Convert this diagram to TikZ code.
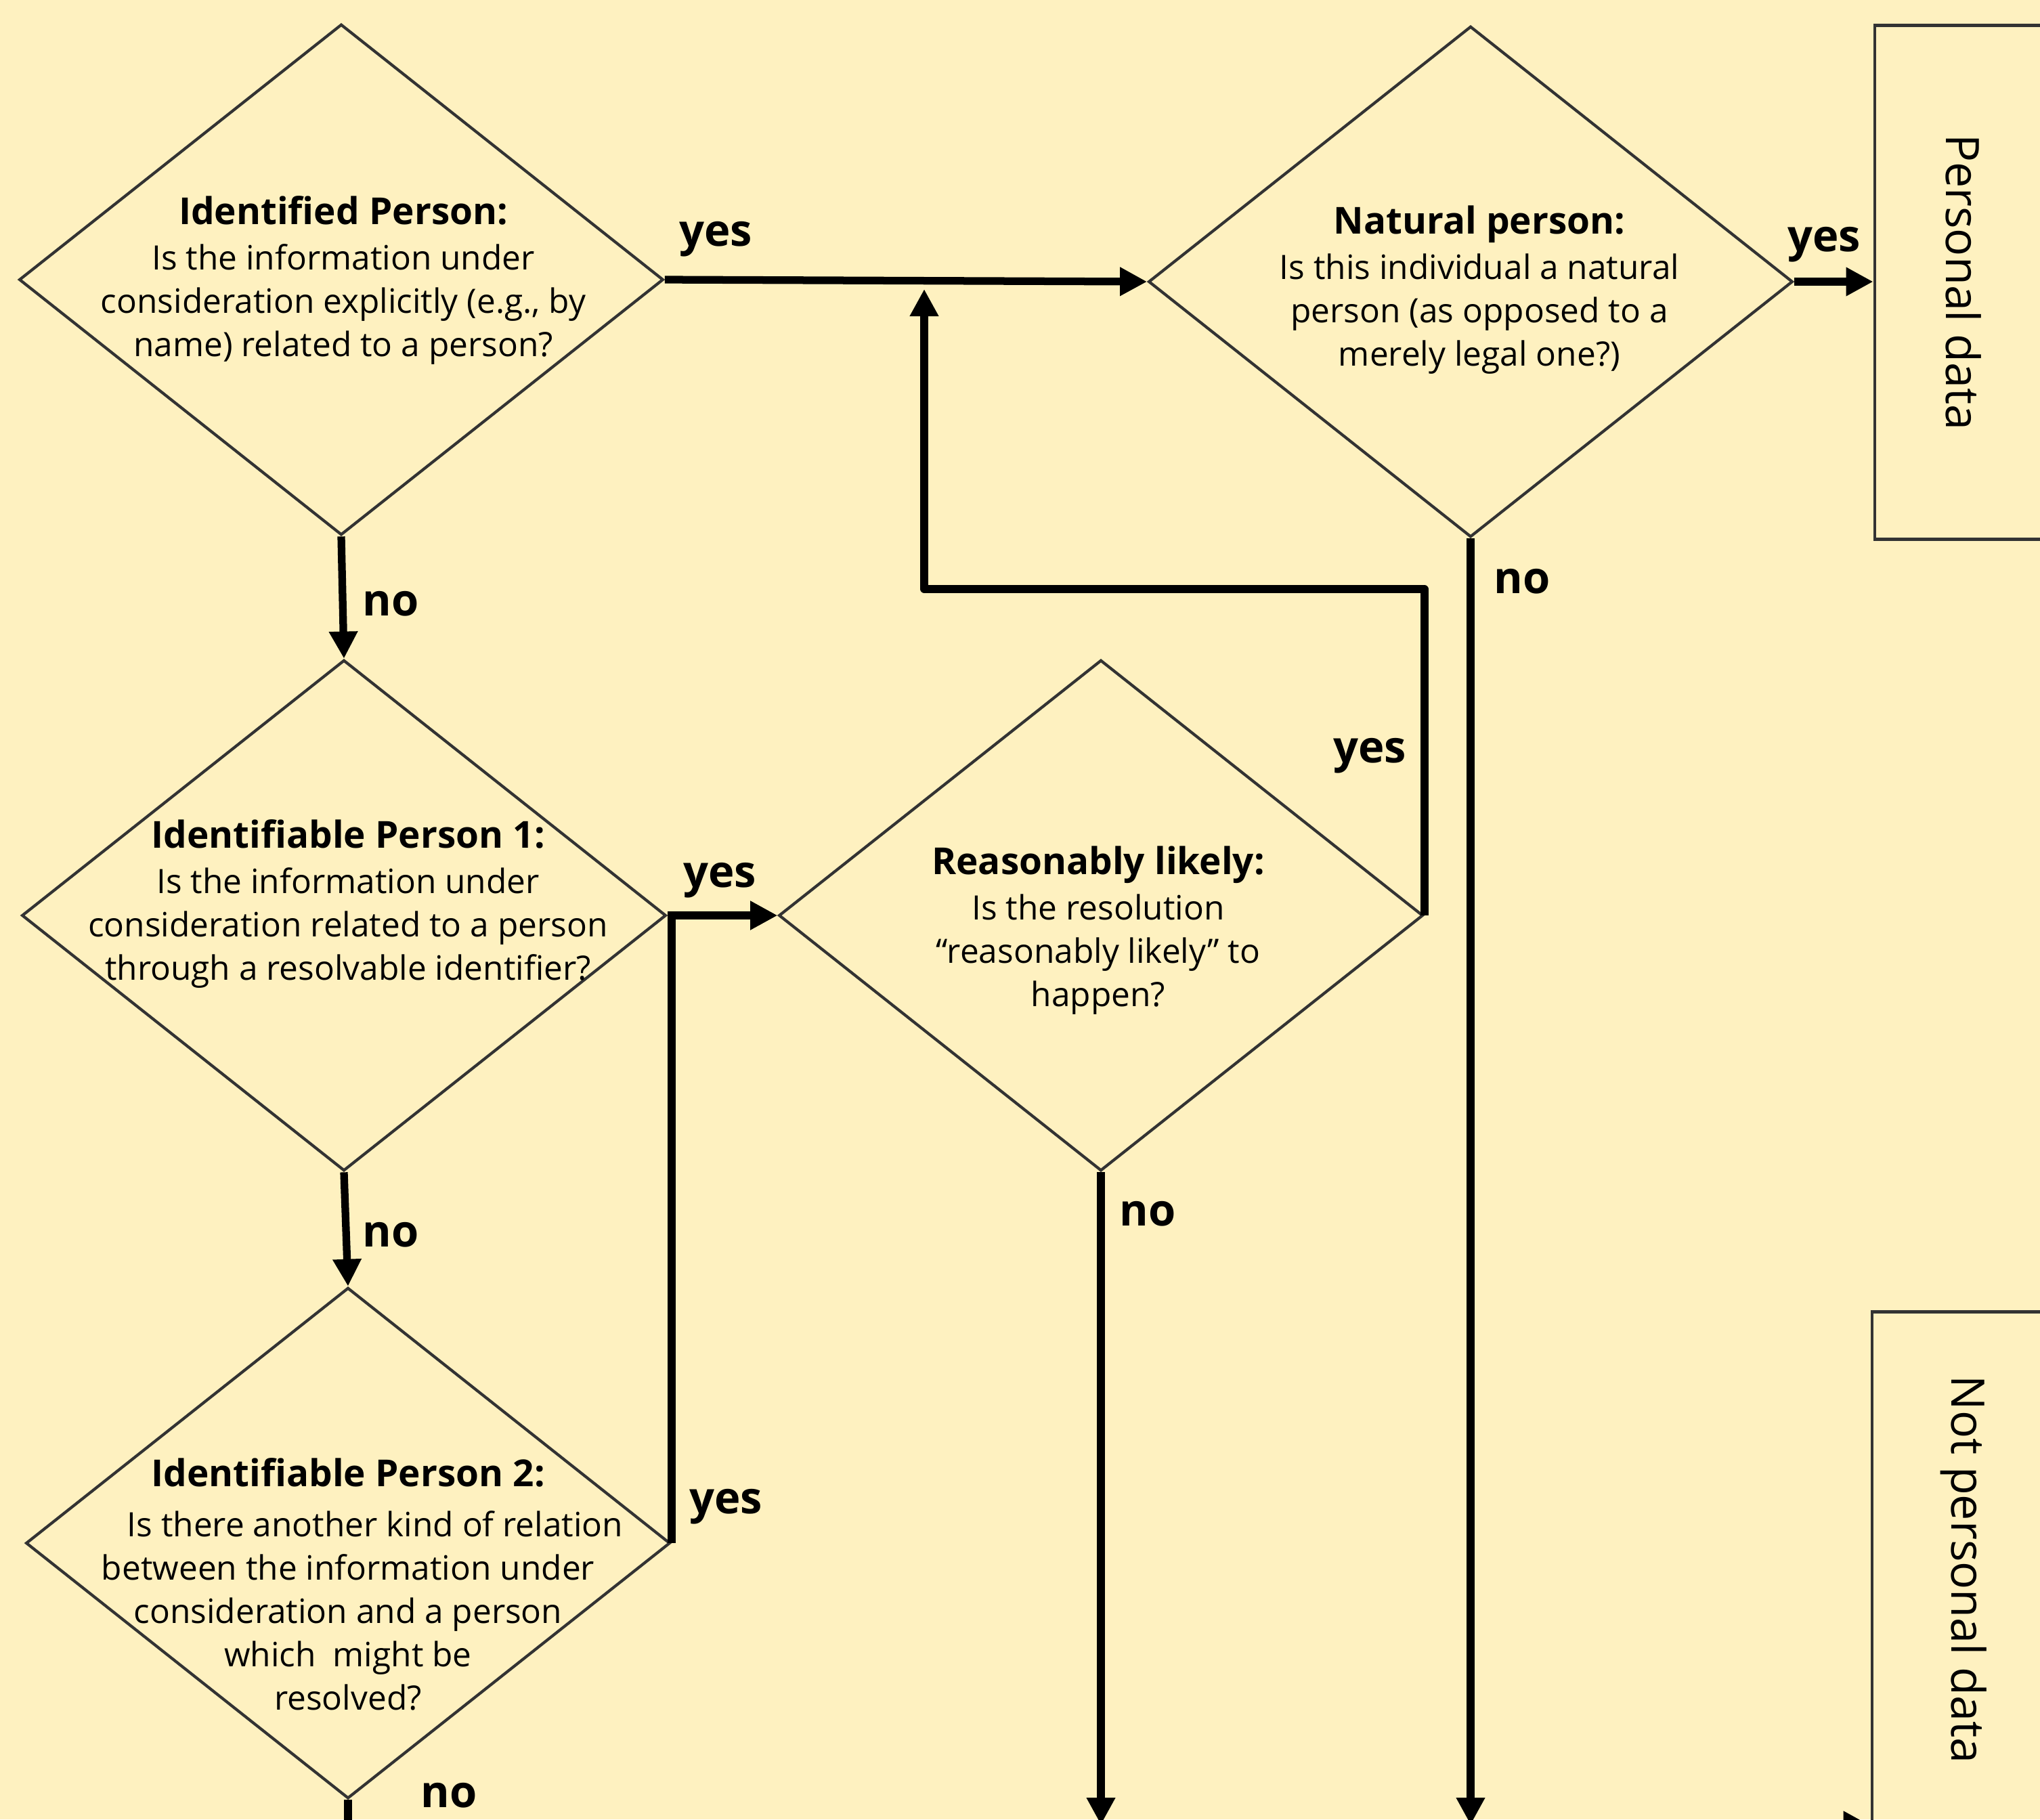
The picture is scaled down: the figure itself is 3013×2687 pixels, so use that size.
\documentclass[tikz,border=0pt]{standalone}
\usepackage{fontspec}
\setmainfont{Open Sans}
\usetikzlibrary{shapes.geometric,arrows.meta,positioning}
\definecolor{paper}{HTML}{FEF1C0}
\definecolor{outline}{HTML}{333333}
\newcommand{\headfont}{\fontsize{15.6}{19}\selectfont\bfseries}
\newcommand{\bodyfont}{\fontsize{14.1}{18.2}\selectfont}
\newcommand{\answerfont}{\fontsize{18.5}{22}\selectfont\bfseries}
\newcommand{\boxfont}{\fontsize{19.4}{24}\selectfont}

\begin{document}
\begin{tikzpicture}[x=0.01cm, y=-0.01cm,
decision/.style={diamond, draw=outline, line width=1.2pt, minimum width=9.51cm, minimum height=7.54cm, inner sep=0pt},
question/.style={align=center, font=\bodyfont, inner sep=0pt},
outcome/.style={rectangle, draw=outline, line width=1.3pt, inner sep=0pt},
verdict/.style={font=\boxfont, rotate=-90, inner sep=0pt},
answer/.style={font=\answerfont, inner sep=0pt},
flow/.style={line width=3.2pt, line join=round, -{Triangle[length=0.4cm, width=0.4cm]}},
joint/.style={line width=3.2pt, line join=round}
]
\fill[paper] (0,0) rectangle (3013,2687);
\useasboundingbox (0,0) rectangle (3013,2687);
%Nodes
\node[decision]  (ip)   at (504,413)   {};
\node[decision]  (np)   at (2172,416)  {};
\node[decision]  (ipa)  at (508,1352)  {};
\node[decision]  (rl)   at (1626,1352) {};
\node[decision]  (ipb)  at (514,2279)  {};
\node[question]  (ip-q)  at (507,414)  {{\headfont Identified Person:}\\[1pt] Is the information under\\ consideration explicitly (e.g., by\\ name) related to a person?};
\node[question]  (np-q)  at (2185,428) {{\headfont Natural person:}\\[1pt] Is this individual a natural\\ person (as opposed to a\\ merely legal one?)};
\node[question]  (ipa-q) at (514,1335) {{\headfont Identifiable Person 1:}\\[1pt] Is the information under\\ consideration related to a person\\ through a resolvable identifier?};
\node[question]  (rl-q)  at (1622,1374) {{\headfont Reasonably likely:}\\[1pt] Is the resolution\\ “reasonably likely” to\\ happen?};
\node[question]  (ipb-q) at (514,2340) {{\headfont Identifiable Person 2:}\\[3pt] \hspace*{0.8cm}Is there another kind of relation\\ between the information under\\ consideration and a person\\ which\enspace might be\\ resolved?};
\node[outcome, minimum width=6cm, minimum height=7.59cm]  (pd)  at (3069,417)  {};
\node[outcome, minimum width=6cm, minimum height=11.62cm] (npd) at (3065,2519) {};
\node[verdict]  (pd-t)  at (2900,417)  {Personal data};
\node[verdict]  (npd-t) at (2900,2318) {Not personal data};
\node[answer] (yes-ip)  at (1057,353)  {yes};
\node[answer] (yes-np)  at (2694,361)  {yes};
\node[answer] (yes-ipa) at (1063,1300) {yes};
\node[answer] (yes-ipb) at (1072,2225) {yes};
\node[answer] (yes-rl)  at (2023,1116) {yes};
\node[answer] (no-ip)   at (577,892)   {no};
\node[answer] (no-ipa)  at (577,1824)  {no};
\node[answer] (no-np)   at (2248,859)  {no};
\node[answer] (no-rl)   at (1695,1793) {no};
\node[answer] (no-ipb)  at (663,2652)  {no};
\coordinate (merge) at (1365,427);
\coordinate (loop)  at (1365,870);
\coordinate (floor) at (0,2695);
\coordinate (under) at (0,2760);
\coordinate (offpage) at (2400,2696);
%Lines
\draw[flow] (ip.east) -- (np.west);
\draw[flow] (np.east) -- (pd.west |- np.east);
\draw[flow] (ip.south) -- (ipa.north);
\draw[flow] (ipa.south) -- (ipb.north);
\draw[flow] (ipa.east) -- (rl.west);
\draw[flow] (ipb.east) |- (rl.west);
\draw[flow] (rl.east) |- (loop) -- (merge);
\draw[flow] (np.south) -- (np.south |- floor);
\draw[flow] (rl.south) -- (rl.south |- floor);
\draw[joint] (ipb.south) -- (ipb.south |- under);
\draw[flow] (offpage) -- (npd.west |- offpage);
\end{tikzpicture}
\end{document}
